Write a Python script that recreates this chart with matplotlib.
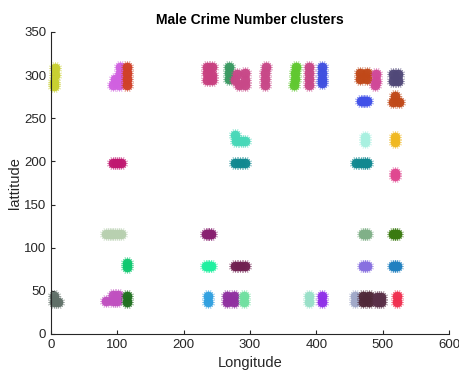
import matplotlib
matplotlib.use("Agg")
import matplotlib.pyplot as plt

plt.rcParams['font.family'] = ['Liberation Sans', 'DejaVu Sans']

# cluster colours and member points
cluster_colors = [
    '#c8d030', '#d060e0', '#d04028', '#c84080', '#3a9a62', '#c84888', '#c84888',
    '#60c830', '#c84888', '#4050e0', '#c04818', '#d04898', '#504878', '#4050e8',
    '#c04818', '#48d8b8', '#108890', '#a8f0e0', '#f0b820', '#108890', '#e04890',
    '#c01870', '#b8d0b0', '#882070', '#80b088', '#3a7a10', '#10c870', '#20f0a0',
    '#702050', '#8870e0', '#2080c0', '#607068', '#c050c0', '#207020', '#30a0e0',
    '#9030a0', '#70e0a0', '#98e0c8', '#9030e8', '#a0a8c8', '#502838', '#5a3048',
    '#f03050',
]
cluster_x = [
    [6, 6, 4, 4], [104, 104, 96, 104, 93, 103], [115, 115, 115, 115],
    [235, 243, 235, 243, 235, 243], [268, 268, 268], [280, 292, 278, 292, 284, 292],
    [324, 322, 322, 322], [369, 368, 368, 366], [389, 389, 389, 389],
    [408, 408, 408, 408], [466, 476, 466, 476], [490, 490, 488],
    [515, 523, 515, 523], [467, 472, 477], [519, 515, 524],
    [278, 279, 286, 292], [278, 285, 292], [474, 474], [518, 518], [460, 467, 473, 477],
    [518, 518], [93, 99, 105],
    [83, 89, 94, 100, 105], [234, 238, 241], [470, 474, 477], [515, 519, 522],
    [115, 115], [234, 238, 241], [278, 285, 292], [470, 474, 477], [515, 519, 522],
    [4, 4, 10], [83, 93, 100, 93, 101], [115, 115], [236, 236],
    [266, 266, 276, 276], [291, 291], [389, 389], [408, 408], [459, 459],
    [471, 479, 471, 479], [491, 497, 491, 497], [521, 521],
]
cluster_y = [
    [308, 300, 292, 287], [309, 302, 295, 295, 288, 288], [310, 303, 296, 288],
    [309, 309, 302, 300, 294, 294], [310, 303, 296], [301, 302, 294, 294, 288, 288],
    [310, 303, 296, 289], [309, 302, 295, 288], [310, 303, 296, 289],
    [310, 303, 296, 291], [303, 303, 295, 295], [301, 293, 289],
    [301, 301, 293, 293], [270, 270, 270], [276, 269, 269],
    [231, 224, 224, 224], [198, 198, 198], [228, 222], [228, 222], [198, 198, 198, 198],
    [187, 183], [198, 198, 198],
    [116, 116, 116, 116, 116], [116, 116, 116], [116, 116, 116], [116, 116, 116],
    [82, 78], [79, 79, 79], [79, 79, 79], [79, 79, 79], [79, 79, 79],
    [44, 37, 37], [38, 38, 38, 45, 45], [44, 37], [44, 37],
    [44, 37, 44, 37], [44, 37], [44, 37], [44, 37], [44, 37],
    [44, 44, 37, 37], [43, 43, 37, 37], [44, 37],
]

x_ticks = [0, 100, 200, 300, 400, 500, 600]
y_ticks = [0, 50, 100, 150, 200, 250, 300, 350]

fig = plt.figure(figsize=(4.59, 3.73), dpi=100)
ax = fig.add_axes([51 / 459, 39 / 373, 398 / 459, 302 / 373])

for c, xs, ys in zip(cluster_colors, cluster_x, cluster_y):
    # soft fuzzy halo of small asterisks
    ax.plot(xs, ys, linestyle='none', marker=(8, 2, 22.5), markersize=9.5,
            markeredgewidth=0.6, color=c, clip_on=False, alpha=0.45)
    ax.plot(xs, ys, linestyle='none', marker=(8, 2, 0), markersize=8.5,
            markeredgewidth=0.7, color=c, clip_on=False, alpha=0.6)
    # dense core
    ax.plot(xs, ys, linestyle='none', marker='o', markersize=7,
            markeredgewidth=0, color=c, clip_on=False, alpha=0.95)

ax.set_xlim(0, 600)
ax.set_ylim(0, 350)
ax.set_xticks(x_ticks)
ax.set_yticks(y_ticks)
axc = '#262626'
for s in ['top', 'right']:
    ax.spines[s].set_visible(False)
for s in ['left', 'bottom']:
    ax.spines[s].set_color(axc)
    ax.spines[s].set_linewidth(0.8)
ax.tick_params(direction='in', length=3, width=0.8, color=axc,
               labelcolor=axc, labelsize=9.5)
ax.set_xlabel('Longitude', fontsize=10.5, color=axc, labelpad=4)
ax.set_ylabel('lattitude', fontsize=10.5, color=axc, labelpad=1)
ax.set_title('Male Crime Number clusters', fontsize=10, fontweight='bold',
             color='black', pad=6)

fig.savefig('out.png', dpi=100)
